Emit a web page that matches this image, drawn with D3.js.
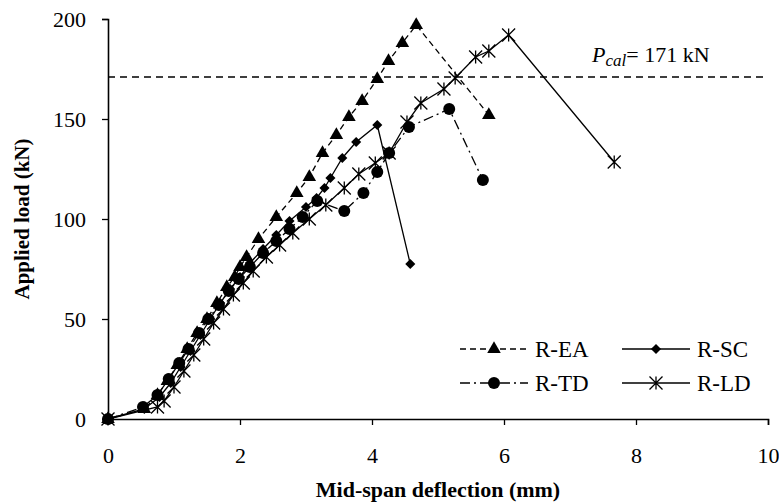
<!DOCTYPE html>
<html>
<head>
<meta charset="utf-8">
<script src="https://cdn.jsdelivr.net/npm/d3@7"></script>
<style>
  html, body { margin: 0; padding: 0; background: #fff; }
  svg { display: block; }
  text { font-family: "Liberation Serif", "Times New Roman", serif; fill: #000; }
</style>
</head>
<body>
<svg id="chart" width="779" height="504"></svg>
<script>
// ---- data (deflection in mm, load in kN) ----
const eaX = [0, 0.55, 0.75, 0.9, 1.05, 1.2, 1.35, 1.5, 1.65, 1.8, 1.92, 2.0, 2.1, 2.28, 2.55, 2.86, 3.05, 3.25, 3.46, 3.65, 3.85, 4.08, 4.25, 4.46, 4.67, 5.77];
const eaY = [0, 5, 12, 19, 27, 35, 43, 50, 58, 66, 71, 76, 81, 90, 101, 113, 121, 133, 142, 151, 159, 170, 179, 188, 197, 152];

const scX = [0, 0.55, 0.78, 0.95, 1.1, 1.25, 1.4, 1.55, 1.7, 1.85, 2.0, 2.15, 2.35, 2.55, 2.75, 3.0, 3.16, 3.28, 3.37, 3.55, 3.76, 4.08, 4.58];
const scY = [0, 5, 11, 18, 26, 34, 42, 50, 58, 65, 71, 78, 85, 92, 99, 106, 110.5, 115.5, 120.5, 130.5, 138.5, 147, 77.5];

const tdX = [0, 0.53, 0.75, 0.92, 1.08, 1.22, 1.38, 1.52, 1.68, 1.83, 1.98, 2.15, 2.35, 2.55, 2.75, 2.95, 3.17, 3.58, 3.87, 4.08, 4.26, 4.56, 5.17, 5.68];
const tdY = [0, 6, 12, 20, 28, 35, 43, 50, 57, 64, 70, 76, 83, 89, 95, 101, 109, 104, 113, 123.5, 133, 146, 155, 119.5];

const ldX = [0, 0.75, 0.85, 1.0, 1.15, 1.3, 1.45, 1.6, 1.75, 1.9, 2.05, 2.2, 2.4, 2.6, 2.8, 3.05, 3.3, 3.58, 3.8, 4.05, 4.26, 4.53, 4.74, 5.09, 5.26, 5.57, 5.77, 6.07, 7.67];
const ldY = [0, 6, 9, 16, 24, 32, 40, 48, 55, 62, 68, 74, 81, 87, 93, 100, 107, 115.5, 122.5, 128, 133, 148.5, 158, 165, 170.5, 181, 184, 192, 128.5];

const pCal = 171;
const xTicks = [0, 2, 4, 6, 8, 10];
const yTicks = [0, 50, 100, 150, 200];

const seriesNames = ["R-EA", "R-SC", "R-TD", "R-LD"];

// ---- layout ----
const svg = d3.select("#chart");
const x = d3.scaleLinear().domain([0, 10]).range([108, 768]);
const y = d3.scaleLinear().domain([0, 200]).range([419, 19]);

const series = [
  { name: seriesNames[0], xs: eaX, ys: eaY, dash: "6,4", marker: "tri" },
  { name: seriesNames[1], xs: scX, ys: scY, dash: null, marker: "dia" },
  { name: seriesNames[2], xs: tdX, ys: tdY, dash: "10,4,2,4", marker: "cir" },
  { name: seriesNames[3], xs: ldX, ys: ldY, dash: null, marker: "star" }
];

function drawMarker(g, type, cx, cy) {
  if (type === "tri") {
    g.append("path").attr("d", d3.symbol(d3.symbolTriangle, 80)())
      .attr("transform", `translate(${cx},${cy})`).attr("fill", "#000");
  } else if (type === "dia") {
    g.append("path").attr("d", d3.symbol(d3.symbolDiamond2 || d3.symbolDiamond, 65)())
      .attr("transform", `translate(${cx},${cy})`).attr("fill", "#000");
  } else if (type === "cir") {
    g.append("circle").attr("cx", cx).attr("cy", cy).attr("r", 6).attr("fill", "#000");
  } else if (type === "star") {
    const r = 6.5;
    const d = `M${cx - r},${cy - r}L${cx + r},${cy + r}M${cx - r},${cy + r}L${cx + r},${cy - r}M${cx},${cy - r}L${cx},${cy + r}`;
    g.append("path").attr("d", d).attr("stroke", "#000").attr("stroke-width", 1.3).attr("fill", "none");
  }
}

// reference line
svg.append("line")
  .attr("x1", x(0)).attr("x2", x(10)).attr("y1", y(pCal)).attr("y2", y(pCal))
  .attr("stroke", "#000").attr("stroke-width", 1.3).attr("stroke-dasharray", "7,5");

const pl = svg.append("text").attr("x", 592).attr("y", 62).attr("font-size", 22);
pl.append("tspan").attr("font-style", "italic").text("P");
pl.append("tspan").attr("font-size", 17).attr("dy", 4).attr("font-style", "italic").text("cal");
pl.append("tspan").attr("dy", -4).text("= 171 kN");

// series
const line = d3.line();
series.forEach(s => {
  const pts = s.xs.map((v, i) => [x(v), y(s.ys[i])]);
  const g = svg.append("g");
  g.append("path").attr("d", line(pts)).attr("fill", "none")
    .attr("stroke", "#000").attr("stroke-width", 1.3)
    .attr("stroke-dasharray", s.dash);
  pts.forEach(p => drawMarker(g, s.marker, p[0], p[1]));
});

// axes
const xAxis = svg.append("g").attr("transform", `translate(0,${y(0)})`)
  .call(d3.axisBottom(x).tickValues(xTicks).tickSize(6).tickPadding(22).tickFormat(d3.format("d")));
const yAxis = svg.append("g").attr("transform", `translate(${x(0)},0)`)
  .call(d3.axisLeft(y).tickValues(yTicks).tickSize(6).tickPadding(16).tickFormat(d3.format("d")));
[xAxis, yAxis].forEach(a => {
  a.select(".domain").attr("stroke", "#000").attr("stroke-width", 1.6);
  a.selectAll(".tick line").attr("stroke", "#000").attr("stroke-width", 1.3);
  a.selectAll(".tick text").attr("font-family", "Liberation Serif").attr("font-size", 22).attr("fill", "#000");
});

// axis titles
svg.append("text").attr("x", 438).attr("y", 497).attr("text-anchor", "middle")
  .attr("font-size", 22).attr("font-weight", "bold").text("Mid-span deflection (mm)");
svg.append("text").attr("transform", "translate(29,219) rotate(-90)").attr("text-anchor", "middle")
  .attr("font-size", 21).attr("font-weight", "bold").text("Applied load (kN)");

// legend
const legendItems = [
  { s: series[0], lx: 460, ly: 349, tx: 535 },
  { s: series[1], lx: 622, ly: 349, tx: 697 },
  { s: series[2], lx: 460, ly: 383, tx: 535 },
  { s: series[3], lx: 622, ly: 383, tx: 697 }
];
legendItems.forEach(it => {
  const g = svg.append("g");
  g.append("line").attr("x1", it.lx).attr("x2", it.lx + 68).attr("y1", it.ly).attr("y2", it.ly)
    .attr("stroke", "#000").attr("stroke-width", 1.3).attr("stroke-dasharray", it.s.dash);
  drawMarker(g, it.s.marker, it.lx + 34, it.ly);
  g.append("text").attr("x", it.tx).attr("y", it.ly + 8).attr("font-size", 23).text(it.s.name);
});
</script>
</body>
</html>
